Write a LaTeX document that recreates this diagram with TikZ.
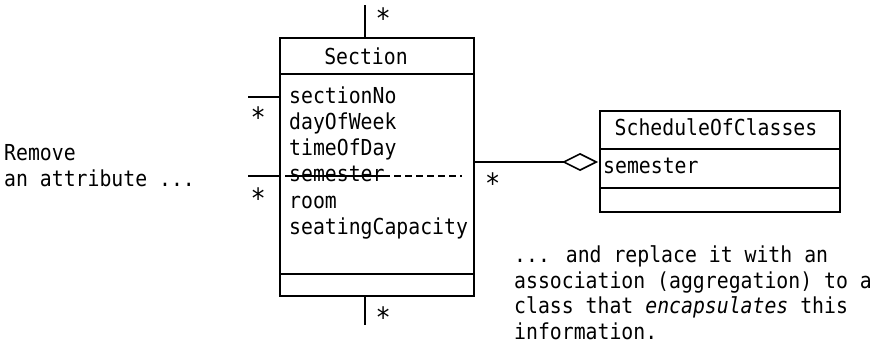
\documentclass[tikz,border=0pt]{standalone}
\usepackage{fontspec}
\usetikzlibrary{arrows.meta}
\newfontfamily\umlmono[FakeStretch=0.9]{DejaVu Sans Mono}
\tikzset{
  lw/.style={line width=1.6pt},
  compart/.style={draw, lw, inner sep=0pt, anchor=north west},
  txt/.style={inner sep=0pt, anchor=base west, font=\umlmono\fontsize{22}{26}\selectfont},
  ctxt/.style={txt, anchor=base},
  mult/.style={txt, font=\umlmono\fontsize{28}{30}\selectfont},
  conn/.style={lw},
}
\begin{document}
\begin{tikzpicture}[x=1pt,y=-1pt]
\useasboundingbox (0,0) rectangle (878,351);
% Section class
\node[compart, minimum width=194pt, minimum height=36pt] (secHead) at (279,37) {};
\node[compart, minimum width=194pt, minimum height=200pt] (secAttr) at (279,73) {};
\node[compart, minimum width=194pt, minimum height=22pt] (secOps) at (279,273) {};
\node[ctxt] (secName) at (366,64) {Section};
\node[txt] (a1) at (289,103) {sectionNo};
\node[txt] (a2) at (289,129) {dayOfWeek};
\node[txt] (a3) at (289,155) {timeOfDay};
\node[txt] (a4) at (289,181) {semester};
\node[txt] (a5) at (289,208) {room};
\node[txt] (a6) at (289,234) {seatingCapacity};
% strike-through of semester
\coordinate (s1) at (285,176);
\coordinate (s2) at (383,176);
\coordinate (s3) at (462,176);
\draw[line width=1.3pt] (s1) -- (s2);
\draw[line width=1.3pt, dash pattern=on 7pt off 4pt] (s2) -- (s3);
% ScheduleOfClasses class
\node[compart, minimum width=240pt, minimum height=38pt] (schHead) at (599,110) {};
\node[compart, minimum width=240pt, minimum height=39pt] (schAttr) at (599,148) {};
\node[compart, minimum width=240pt, minimum height=24pt] (schOps) at (599,187) {};
\node[ctxt] (schName) at (716,135) {ScheduleOfClasses};
\node[txt] (b1) at (603,173) {semester};
% association stubs
\coordinate (t1) at (365,5);
\draw[conn] (t1) -- (secHead.north -| t1);
\coordinate (u1) at (365,325);
\draw[conn] (secOps.south -| u1) -- (u1);
\coordinate (l1) at (248,97);
\draw[conn] (l1) -- (secAttr.west |- l1);
\coordinate (l2) at (248,176);
\draw[conn] (l2) -- (secAttr.west |- l2);
% aggregation
\coordinate (g1) at (473,162);
\coordinate (g2) at (598,162);
\draw[conn, -{Diamond[open, length=36pt, width=18pt, line width=1.6pt]}] (g1) -- (g2);
% multiplicities
\node[mult] (m1) at (375.5,28) {*};
\node[mult] (m2) at (375.5,327) {*};
\node[mult] (m3) at (250.5,127) {*};
\node[mult] (m4) at (250.5,208) {*};
\node[mult] (m5) at (485,193) {*};
% notes
\node[txt] (n1) at (4,160) {Remove};
\node[txt] (n2) at (4,186) {an attribute ...};
\node[txt] (r1) at (514,262) {... and replace it with an};
\node[txt] (r2) at (514,288) {association (aggregation) to a};
\node[txt] (r3) at (514,313.5) {class that \textit{encapsulates} this};
\node[txt] (r4) at (514,339) {information.};
\end{tikzpicture}
\end{document}
